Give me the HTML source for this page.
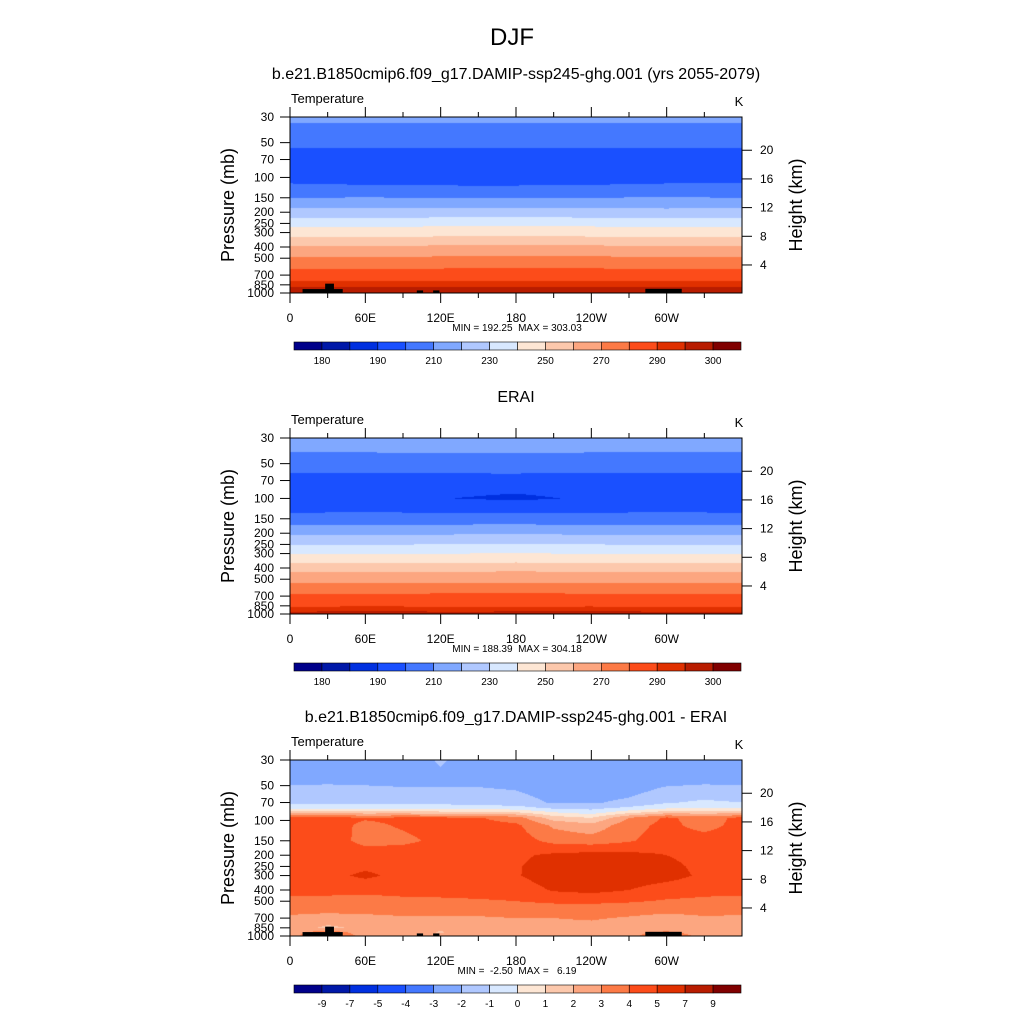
<!DOCTYPE html>
<html><head><meta charset="utf-8">
<style>
body{margin:0;background:#fff;width:1024px;height:1024px;overflow:hidden;font-family:"Liberation Sans",sans-serif}
#wrap{position:relative;width:1024px;height:1024px}
canvas{position:absolute}
svg{position:absolute;left:0;top:0}
text{white-space:pre}
</style></head><body>
<div id="wrap">
<canvas id="c0" width="452" height="176" style="left:290px;top:117px"></canvas>
<canvas id="c1" width="452" height="176" style="left:290px;top:438px"></canvas>
<canvas id="c2" width="452" height="176" style="left:290px;top:760px"></canvas>
<svg id="s" width="1024" height="1024"></svg>
</div>
<script>
const palette=["#00008a","#0018a8","#0030e0","#1a50ff","#4478ff","#80a8ff","#b0c8ff","#d8e8ff","#fde6d4","#fcc8ac","#fca680","#fc7a46","#fc4c1a","#e03000","#b81c00","#800000"];
const tempLevels=[180,185,190,200,210,220,230,240,250,260,270,280,290,295,300];
const diffLevels=[-9,-7,-5,-4,-3,-2,-1,0,1,2,3,4,5,7,9];
const tempLabels=["180","190","210","230","250","270","290","300"];
const diffLabels=["-9","-7","-5","-4","-3","-2","-1","0","1","2","3","4","5","7","9"];
const lonTicks=["0","60E","120E","180","120W","60W"];
const pTicks=[30,50,70,100,150,200,250,300,400,500,700,850,1000];
const hTicks=[4,8,12,16,20];

const lon7=[0,60,120,180,240,300,360];
const modelP=[30,34,56,80,116,150,184,224,268,328,391,488,620,790,890,1000];
const modelT=[
[212,212,212,212,212,212,212],
[210,210,210,210,210,210,210],
[200,200,200,200,200,200,200],
[194,194,194,194,194,194,194],
[200.5,200,199.5,199.5,200,200.5,200.5],
[210,210.3,210,209.5,210,210.5,210],
[220,220,220.3,220.5,220,219.5,220],
[229.8,230,230.5,230.8,230.3,229.8,229.8],
[239.5,240,240.6,241,240.5,239.7,239.5],
[249.6,250,250.6,251,250.5,250,249.6],
[259.7,260,260.5,261,260.5,260,259.7],
[269.7,270,270.5,271,270.6,270,269.7],
[279.8,280,280.4,280.8,280.5,280,279.8],
[289.8,290,290.3,290.5,290.3,290,289.8],
[295,295.3,295.5,295.5,295.3,295,295],
[299,299,299.5,299.5,299.3,299,299]];

const eraiP=[30,40,60,85,100,133,170,207,252,303,363,433,541,670,870,950,1000];
const eraiT=[
[215,215,215,215,215,215,215],
[210,210,210.2,210.3,210,210,210],
[200,200,200.3,200.4,200,200,200],
[193,193,192,191,193,193,193],
[192,192,190.3,188.5,191,192,192],
[200,200.3,200,199.6,200,200.3,200],
[210,210.3,210.4,210.6,210.2,210,210],
[220,220,220.4,220.7,220.3,220,220],
[230,230,230.5,230.8,230.4,230,230],
[240,240,240.5,240.8,240.4,239.8,240],
[250,250,250.4,250.7,250.4,249.8,250],
[260,260,260.4,260.6,260.4,260,260],
[270,270.2,270.4,270.5,270.4,270,270],
[280,280.2,280.4,280.5,280.3,280,280],
[290,290.6,290.2,290.3,290.4,290,290],
[294.6,295.5,294.8,295,295.2,294.8,294.6],
[297,299,297,297,297.5,297,297]];

const lon13=[0,30,60,90,120,150,180,210,240,270,300,330,360];
const diffP=[30,45,55,70,78,85,95,110,150,200,250,300,400,500,600,700,850,925,1000];
const diffV=[
[-2.5,-2.5,-2.5,-2.5,-1.9,-2.5,-2.5,-2.5,-2.5,-2.5,-2.5,-2.5,-2.5],
[-2.2,-2.2,-2.2,-2.2,-2.2,-2.2,-2.3,-2.5,-2.5,-2.4,-2.3,-2.2,-2.2],
[-1.8,-1.7,-1.8,-1.9,-1.9,-1.9,-2.0,-2.4,-2.4,-2.3,-1.8,-1.7,-1.8],
[-1.2,-1.2,-1.3,-1.3,-1.3,-1.4,-1.6,-2.1,-2.1,-1.8,-1.1,-0.8,-1.0],
[-0.3,-0.3,-0.4,-0.4,-0.4,-0.5,-0.6,-1.2,-1.3,-0.8,-0.2,-0.2,-0.2],
[1.5,1.5,1.4,1.4,1.3,1.3,1.0,0.0,-0.5,0.6,1.5,1.5,1.5],
[4.3,4.3,4.1,4.2,4.2,4.1,3.5,1.5,1.0,3.0,4.2,3.5,4.3],
[4.4,4.4,3.8,4.1,4.4,4.3,4.2,2.8,2.3,3.6,4.3,3.6,4.4],
[4.5,4.5,3.7,3.8,4.2,4.3,4.5,3.7,3.5,3.9,4.5,4.5,4.5],
[4.6,4.6,4.5,4.5,4.6,4.6,4.8,5.2,5.4,5.3,5.0,4.6,4.6],
[4.6,4.6,4.8,4.6,4.6,4.7,4.9,5.5,5.6,5.6,5.3,4.7,4.6],
[4.6,4.7,5.2,4.7,4.6,4.7,4.9,5.6,5.7,5.6,5.4,4.8,4.6],
[4.3,4.3,4.3,4.3,4.4,4.4,4.4,5.1,5.3,5.0,4.5,4.3,4.3],
[3.7,3.7,3.6,3.8,3.8,3.9,4.0,4.2,4.2,4.1,3.9,3.8,3.7],
[3.3,3.3,3.3,3.3,3.3,3.3,3.4,3.4,3.5,3.4,3.3,3.3,3.3],
[2.8,2.5,2.7,2.9,2.9,2.9,3.0,3.0,3.1,2.9,2.6,2.9,2.8],
[2.5,1.8,2.2,2.6,2.4,2.6,2.8,2.7,2.7,2.5,2.0,2.3,2.5],
[2.6,3.5,2.5,2.4,1.9,2.6,2.7,2.6,2.6,2.7,3.2,2.5,2.6],
[2.6,4.2,2.6,2.4,2.3,2.6,2.7,2.6,2.6,2.7,3.8,2.6,2.6]];

const topoStart=[10,28,101,114,283];
const topoEnd=[42,35,106,119,312];
const topoTop=[925,830,950,950,920];

const panels=[
 {top:117,lons:lon7,P:modelP,V:modelT,lev:tempLevels,labels:tempLabels,labelIdx:[1,3,5,7,9,11,13,15],
  title:"b.e21.B1850cmip6.f09_g17.DAMIP-ssp245-ghg.001 (yrs 2055-2079)",ty:79,mm:"MIN = 192.25  MAX = 303.03",topo:true,name:"model"},
 {top:438,lons:lon7,P:eraiP,V:eraiT,lev:tempLevels,labels:tempLabels,labelIdx:[1,3,5,7,9,11,13,15],
  title:"ERAI",ty:402,mm:"MIN = 188.39  MAX = 304.18",topo:false,name:"erai"},
 {top:760,lons:lon13,P:diffP,V:diffV,lev:diffLevels,labels:diffLabels,labelIdx:[1,2,3,4,5,6,7,8,9,10,11,12,13,14,15],
  title:"b.e21.B1850cmip6.f09_g17.DAMIP-ssp245-ghg.001 - ERAI",ty:722,mm:"MIN =  -2.50  MAX =   6.19",topo:true,name:"difference"}];

const X0=290,W=452,H=176;
const lnTop=Math.log(30),lnBot=Math.log(1000);
function yOf(p,top){return top+(Math.log(p)-lnTop)/(lnBot-lnTop)*H;}
function xOf(lon){return X0+lon/360*W;}
function hex(c){return [parseInt(c.slice(1,3),16),parseInt(c.slice(3,5),16),parseInt(c.slice(5,7),16)];}
const rgb=palette.map(hex);
function bin(v,lev){let k=0;while(k<lev.length&&v>=lev[k])k++;return k;}
function sample(pn,lon,p){
 const L=pn.lons,P=pn.P,V=pn.V;
 let i=0;while(i<L.length-2&&lon>L[i+1])i++;
 const fx=Math.min(1,Math.max(0,(lon-L[i])/(L[i+1]-L[i])));
 const lp=Math.log(p);let j=0;while(j<P.length-2&&lp>Math.log(P[j+1]))j++;
 const fy=Math.min(1,Math.max(0,(lp-Math.log(P[j]))/(Math.log(P[j+1])-Math.log(P[j]))));
 const a=V[j][i]*(1-fx)+V[j][i+1]*fx,b=V[j+1][i]*(1-fx)+V[j+1][i+1]*fx;
 return a*(1-fy)+b*fy;
}
const NS="http://www.w3.org/2000/svg";
const svg=document.getElementById('s');
function el(tag,attrs,parent){const e=document.createElementNS(NS,tag);for(const k in attrs)e.setAttribute(k,attrs[k]);(parent||svg).appendChild(e);return e;}
function txt(s,x,y,size,anchor,parent){const t=el('text',{x:x,y:y,'font-size':size,'text-anchor':anchor||'middle',fill:'#000','font-family':'Liberation Sans, sans-serif'},parent);t.textContent=s;return t;}

const djf=txt("DJF",512,45,24);



panels.forEach((pn,pi)=>{
 const cv=document.getElementById('c'+pi),ctx=cv.getContext('2d');
 const img=ctx.createImageData(W,H);
 for(let y=0;y<H;y++){
  const p=Math.exp(lnTop+(y+0.5)/H*(lnBot-lnTop));
  for(let x=0;x<W;x++){
   const lon=(x+0.5)/W*360;
   const c=rgb[bin(sample(pn,lon,p),pn.lev)];
   const o=(y*W+x)*4;img.data[o]=c[0];img.data[o+1]=c[1];img.data[o+2]=c[2];img.data[o+3]=255;
  }
 }
 ctx.putImageData(img,0,0);
 const g=el('g',{});
 
 
 const top=pn.top,bot=top+H;
 if(pn.topo){
  topoStart.forEach((s,k)=>{
   const r=el('rect',{x:xOf(s),y:yOf(topoTop[k],top),width:xOf(topoEnd[k])-xOf(s),height:bot-yOf(topoTop[k],top),fill:'#000'},g);
   
   
  });
 }
 el('rect',{x:X0,y:top,width:W,height:H,fill:'none',stroke:'#000','stroke-width':1},g);
 for(let lon=0;lon<360;lon+=30){
  const x=xOf(lon),major=lon%60===0,len=major?10:5;
  el('line',{x1:x,y1:top,x2:x,y2:top-len,stroke:'#000'},g);
  el('line',{x1:x,y1:bot,x2:x,y2:bot+len,stroke:'#000'},g);
 }
 lonTicks.forEach((s,k)=>{const t=txt(s,xOf(k*60),bot+29,12,'middle',g);
  });
 pTicks.forEach(p=>{const y=yOf(p,top);
  el('line',{x1:X0,y1:y,x2:X0-10,y2:y,stroke:'#000'},g);
  const t=txt(String(p),X0-16,y+4,12,'end',g);
  });
 hTicks.forEach(h=>{const y=yOf(1013*Math.exp(-h/7),top);
  el('line',{x1:X0+W,y1:y,x2:X0+W+10,y2:y,stroke:'#000'},g);
  const t=txt(String(h),X0+W+18,y+4,12,'start',g);
  });
 const ti=txt(pn.title,516,pn.ty,16,'middle',g);
 const tv=txt("Temperature",291,top-14,13,'start',g);
 const tk=txt("K",739,top-11,13,'middle',g);
 const yl=txt("Pressure (mb)",0,0,18,'middle',g);yl.setAttribute('transform',`translate(234,${top+88}) rotate(-90)`);
 
 const hl=txt("Height (km)",0,0,18,'middle',g);hl.setAttribute('transform',`translate(802,${top+88}) rotate(-90)`);
 
 const mm=txt(pn.mm,517,bot+38,10,'middle',g);
 const cb=el('g',{},g);
 const cy=top+225,bw=447/16;
 palette.forEach((c,k)=>{const r=el('rect',{x:294+k*bw,y:cy,width:bw,height:8,fill:c,stroke:'#000','stroke-width':0.6},cb);
  });
 pn.labels.forEach((s,k)=>{const t=txt(s,294+pn.labelIdx[k]*bw,cy+22,10,'middle',cb);
  });
});
</script>
</body></html>
